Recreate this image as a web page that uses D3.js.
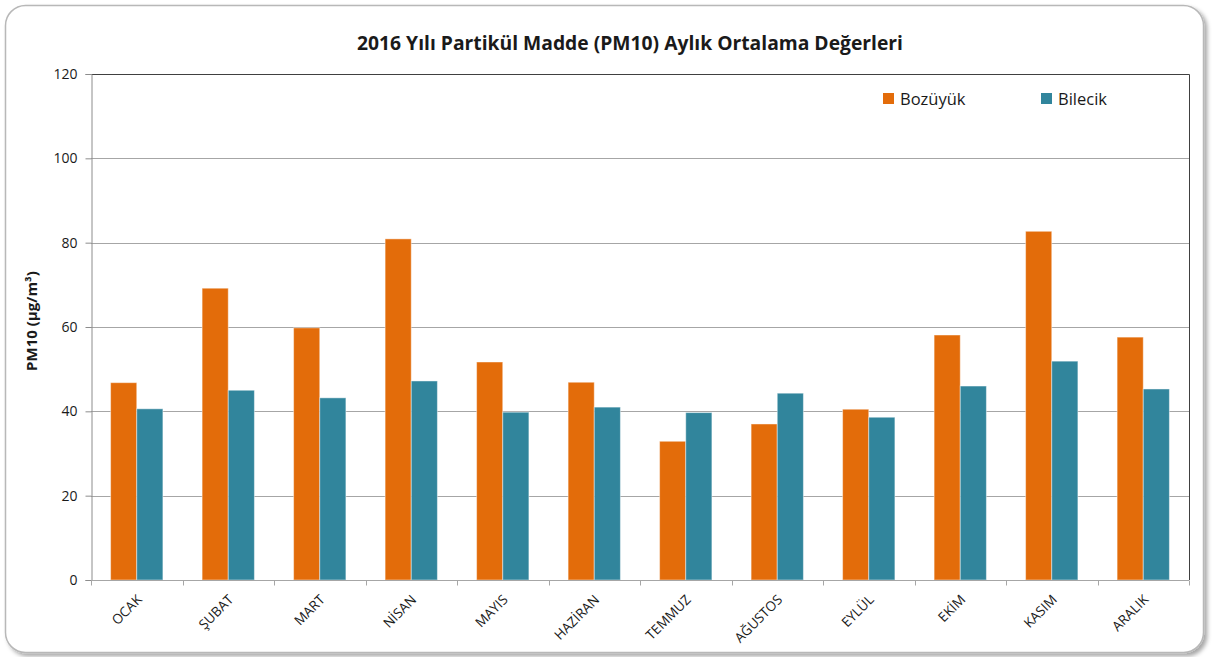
<!DOCTYPE html>
<html>
<head>
<meta charset="utf-8">
<script src="https://cdn.jsdelivr.net/npm/d3@7"></script>
<style>
  body { margin: 0; background: #fff; }
  text { font-family: "Open Sans", sans-serif; fill: #1a1a1a; }
</style>
</head>
<body>
<div class="canvas"></div>
<script>
// data
const months = ["OCAK", "ŞUBAT", "MART", "NİSAN", "MAYIS", "HAZİRAN",
  "TEMMUZ", "AĞUSTOS", "EYLÜL", "EKİM", "KASIM", "ARALIK"];
const bozuyuk = [46.8, 69.2, 59.8, 80.9, 51.7, 46.9, 32.9, 37.0, 40.5, 58.1, 82.7, 57.6];
const bilecik = [40.6, 45.0, 43.2, 47.2, 39.8, 41.0, 39.7, 44.3, 38.6, 46.0, 51.9, 45.3];
const seriesNames = ["Bozüyük", "Bilecik"];
const yTicks = [0, 20, 40, 60, 80, 100, 120];

// dimensions
const W = 1212, H = 657;
const plot = { left: 91, right: 1189, top: 74, bottom: 580 };

const svg = d3.select(".canvas").append("svg")
  .attr("width", W).attr("height", H);

// frame with shadow
const defs = svg.append("defs");
const f = defs.append("filter").attr("id", "shadow")
  .attr("x", "-5%").attr("y", "-5%").attr("width", "110%").attr("height", "110%");
f.append("feDropShadow").attr("dx", 3).attr("dy", 3).attr("stdDeviation", 2)
  .attr("flood-color", "#000").attr("flood-opacity", 0.35);

svg.append("rect")
  .attr("x", 5.5).attr("y", 5.5).attr("width", 1198).attr("height", 647)
  .attr("rx", 20).attr("fill", "#fff").attr("stroke", "#b8b8b8")
  .attr("stroke-width", 1.5).attr("filter", "url(#shadow)");

// scales
const x0 = d3.scaleBand().domain(months)
  .range([plot.left, plot.right]).paddingInner(0.75 / 1.75).paddingOuter(0.75 / 3.5);
const x1 = d3.scaleBand().domain(seriesNames).range([0, x0.bandwidth()]);
const y = d3.scaleLinear().domain([0, 120]).range([plot.bottom, plot.top]);
const color = d3.scaleOrdinal().domain(seriesNames).range(["#E36C0A", "#31859C"]);

// gridlines
svg.append("g").selectAll("line").data(yTicks.filter(d => d > 0 && d < 120)).join("line")
  .attr("x1", plot.left).attr("x2", plot.right)
  .attr("y1", d => Math.round(y(d)) + 0.5).attr("y2", d => Math.round(y(d)) + 0.5)
  .attr("stroke", "#a6a6a6");

// plot border top/right
svg.append("path")
  .attr("d", `M${plot.left},${plot.top + 0.5}H${plot.right + 0.5}V${plot.bottom}`)
  .attr("fill", "none").attr("stroke", "#404040");

// bars
const rows = months.map((m, i) => ({ month: m, values: [bozuyuk[i], bilecik[i]] }));
const groups = svg.append("g").selectAll("g").data(rows).join("g")
  .attr("transform", d => `translate(${x0(d.month)},0)`);
groups.selectAll("rect")
  .data(d => d.values.map((v, k) => ({ key: seriesNames[k], value: v })))
  .join("rect")
  .attr("x", d => x1(d.key))
  .attr("y", d => y(d.value))
  .attr("width", x1.bandwidth())
  .attr("height", d => y(0) - y(d.value))
  .attr("fill", d => color(d.key))
  .attr("stroke", "rgba(255,255,255,0.45)")
  .attr("stroke-width", 1);

// y axis
const yAxis = svg.append("g")
  .attr("transform", `translate(${plot.left + 0.5},0)`)
  .call(d3.axisLeft(y).tickValues(yTicks).tickSize(6).tickPadding(8));
yAxis.select(".domain").attr("stroke", "#8c8c8c");
yAxis.selectAll(".tick line").attr("stroke", "#8c8c8c");
yAxis.selectAll("text").attr("font-size", 14).attr("fill", "#1a1a1a")
  .attr("font-family", "Open Sans, sans-serif");

// x axis
const xAxis = svg.append("g")
  .attr("transform", `translate(0,${plot.bottom + 0.5})`);
xAxis.append("line")
  .attr("x1", plot.left).attr("x2", plot.right)
  .attr("stroke", "#a6a6a6");
xAxis.selectAll("line.tk").data(d3.range(months.length + 1)).join("line")
  .attr("class", "tk")
  .attr("x1", i => Math.round(plot.left + i * (plot.right - plot.left) / months.length) + 0.5)
  .attr("x2", i => Math.round(plot.left + i * (plot.right - plot.left) / months.length) + 0.5)
  .attr("y1", 0).attr("y2", 5)
  .attr("stroke", "#a6a6a6");
xAxis.selectAll("text").data(months).join("text")
  .attr("transform", d => `translate(${x0(d) + x0.bandwidth() / 2 + 6},${20}) rotate(-45)`)
  .attr("text-anchor", "end")
  .attr("font-size", 13.5)
  .text(d => d);

// title
svg.append("text")
  .attr("x", 630).attr("y", 50)
  .attr("text-anchor", "middle")
  .attr("font-size", 19.3).attr("font-weight", "bold")
  .text("2016 Yılı Partikül Madde (PM10) Aylık Ortalama Değerleri");

// y label
svg.append("text")
  .attr("transform", "translate(37,321) rotate(-90)")
  .attr("text-anchor", "middle")
  .attr("font-size", 15).attr("font-weight", "bold")
  .text("PM10 (µg/m³)");

// legend
const legendX = [883, 1041];
const legend = svg.append("g").selectAll("g").data(seriesNames).join("g")
  .attr("transform", (d, i) => `translate(${legendX[i]},93)`);
legend.append("rect").attr("width", 11).attr("height", 11)
  .attr("fill", d => color(d));
legend.append("text").attr("x", 17).attr("y", 12)
  .attr("font-size", 16.5).text(d => d);
</script>
</body>
</html>
